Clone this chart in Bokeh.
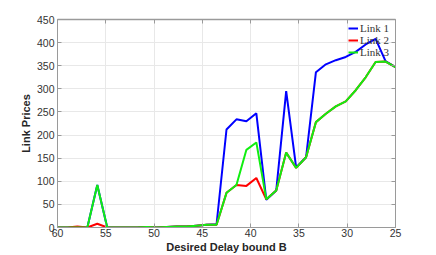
from bokeh.plotting import figure
from bokeh.models import Range1d, FixedTicker, LinearAxis, Legend, LegendItem
from bokeh.embed import file_html
from bokeh.resources import INLINE

delay_bound = [60.00, 58.97, 57.94, 56.91, 55.88, 54.85, 53.82, 52.79, 51.76, 50.74,
               49.71, 48.68, 47.65, 46.62, 45.59, 44.56, 43.53, 42.50, 41.47, 40.44,
               39.41, 38.38, 37.35, 36.32, 35.29, 34.26, 33.24, 32.21, 31.18, 30.15,
               29.12, 28.09, 27.06, 26.03, 25.00]
link1 = [0, 0, 1, 0, 92, 0, 0, 0, 0, 1, 0, 1, 2, 2, 4, 6, 7,
         212, 234, 230, 247, 60, 80, 295, 130, 152, 336, 353, 362, 369, 380, 396, 408, 360, 347]
link2 = [0, 0, 2, 0, 8, 0, 0, 0, 0, 1, 0, 1, 2, 2, 4, 6, 6,
         75, 92, 90, 107, 61, 80, 162, 129, 152, 228, 246, 262, 273, 297, 325, 358, 359, 347]
link3 = [0, 0, 0, 0, 92, 0, 0, 0, 0, 1, 0, 1, 2, 2, 4, 6, 6,
         75, 92, 168, 184, 61, 80, 162, 129, 152, 228, 246, 262, 273, 297, 325, 358, 359, 347]
x_ticks = [60, 55, 50, 45, 40, 35, 30, 25]
y_ticks = [0, 50, 100, 150, 200, 250, 300, 350, 400, 450]
labels = ["Link 1", "Link 2", "Link 3"]
colors = ["#0000ff", "#ff0000", "#11ee11"]

p = figure(width=436, height=255, output_backend="svg", toolbar_location=None,
           x_range=Range1d(60, 25), y_range=Range1d(0, 450),
           min_border_left=57, min_border_right=41, min_border_top=19, min_border_bottom=28)
p.outline_line_color = None
p.background_fill_color = "white"

axis_color = "#9a9a9a"
label_font = "Liberation Sans"

for ax in [p.xaxis[0], p.yaxis[0]]:
    ax.axis_line_color = axis_color
    ax.major_tick_line_color = axis_color
    ax.major_tick_in = 4
    ax.major_tick_out = 0
    ax.minor_tick_line_color = None
    ax.major_label_text_font = label_font
    ax.major_label_text_font_size = "10.5px"
    ax.major_label_text_color = "#333333"
    ax.axis_label_text_font = label_font
    ax.axis_label_text_font_style = "bold"
    ax.axis_label_text_font_size = "11px"
    ax.axis_label_text_color = "#262626"

p.xaxis[0].ticker = FixedTicker(ticks=x_ticks)
p.yaxis[0].ticker = FixedTicker(ticks=y_ticks)
p.xaxis[0].axis_label = "Desired Delay bound B"
p.yaxis[0].axis_label = "Link Prices"
p.xaxis[0].major_label_standoff = 1
p.xaxis[0].axis_label_standoff = 1
p.yaxis[0].major_label_standoff = 3
p.yaxis[0].axis_label_standoff = 2

top = LinearAxis(ticker=FixedTicker(ticks=x_ticks),
                 major_label_overrides={t: "" for t in x_ticks},
                 axis_line_color=axis_color, major_tick_line_color=axis_color,
                 major_tick_in=4, major_tick_out=0, minor_tick_line_color=None,
                 axis_line_width=1.5)
right = LinearAxis(ticker=FixedTicker(ticks=y_ticks),
                   major_label_overrides={t: "" for t in y_ticks},
                   axis_line_color=axis_color, major_tick_line_color=axis_color,
                   major_tick_in=4, major_tick_out=0, minor_tick_line_color=None)
p.add_layout(top, "above")
p.add_layout(right, "right")

p.xgrid.ticker = FixedTicker(ticks=x_ticks)
p.ygrid.ticker = FixedTicker(ticks=y_ticks)
p.xgrid.grid_line_color = "#e8e8e8"
p.ygrid.grid_line_color = "#e8e8e8"

items = []
for series, lab, col in zip([link1, link2, link3], labels, colors):
    r = p.line(delay_bound, series, line_color=col, line_width=2)
    items.append(LegendItem(label=lab, renderers=[r]))

legend = Legend(items=items, location=(291, 169))
legend.border_line_color = None
legend.background_fill_alpha = 0
legend.margin = 0
legend.padding = 2
legend.spacing = 0
legend.glyph_width = 10
legend.glyph_height = 12
legend.label_height = 12
legend.label_standoff = 2
legend.label_text_font = "Liberation Serif"
legend.label_text_font_size = "11px"
legend.label_text_color = "#333333"
p.add_layout(legend, "center")

open("out.html", "w").write(file_html(p, INLINE))
